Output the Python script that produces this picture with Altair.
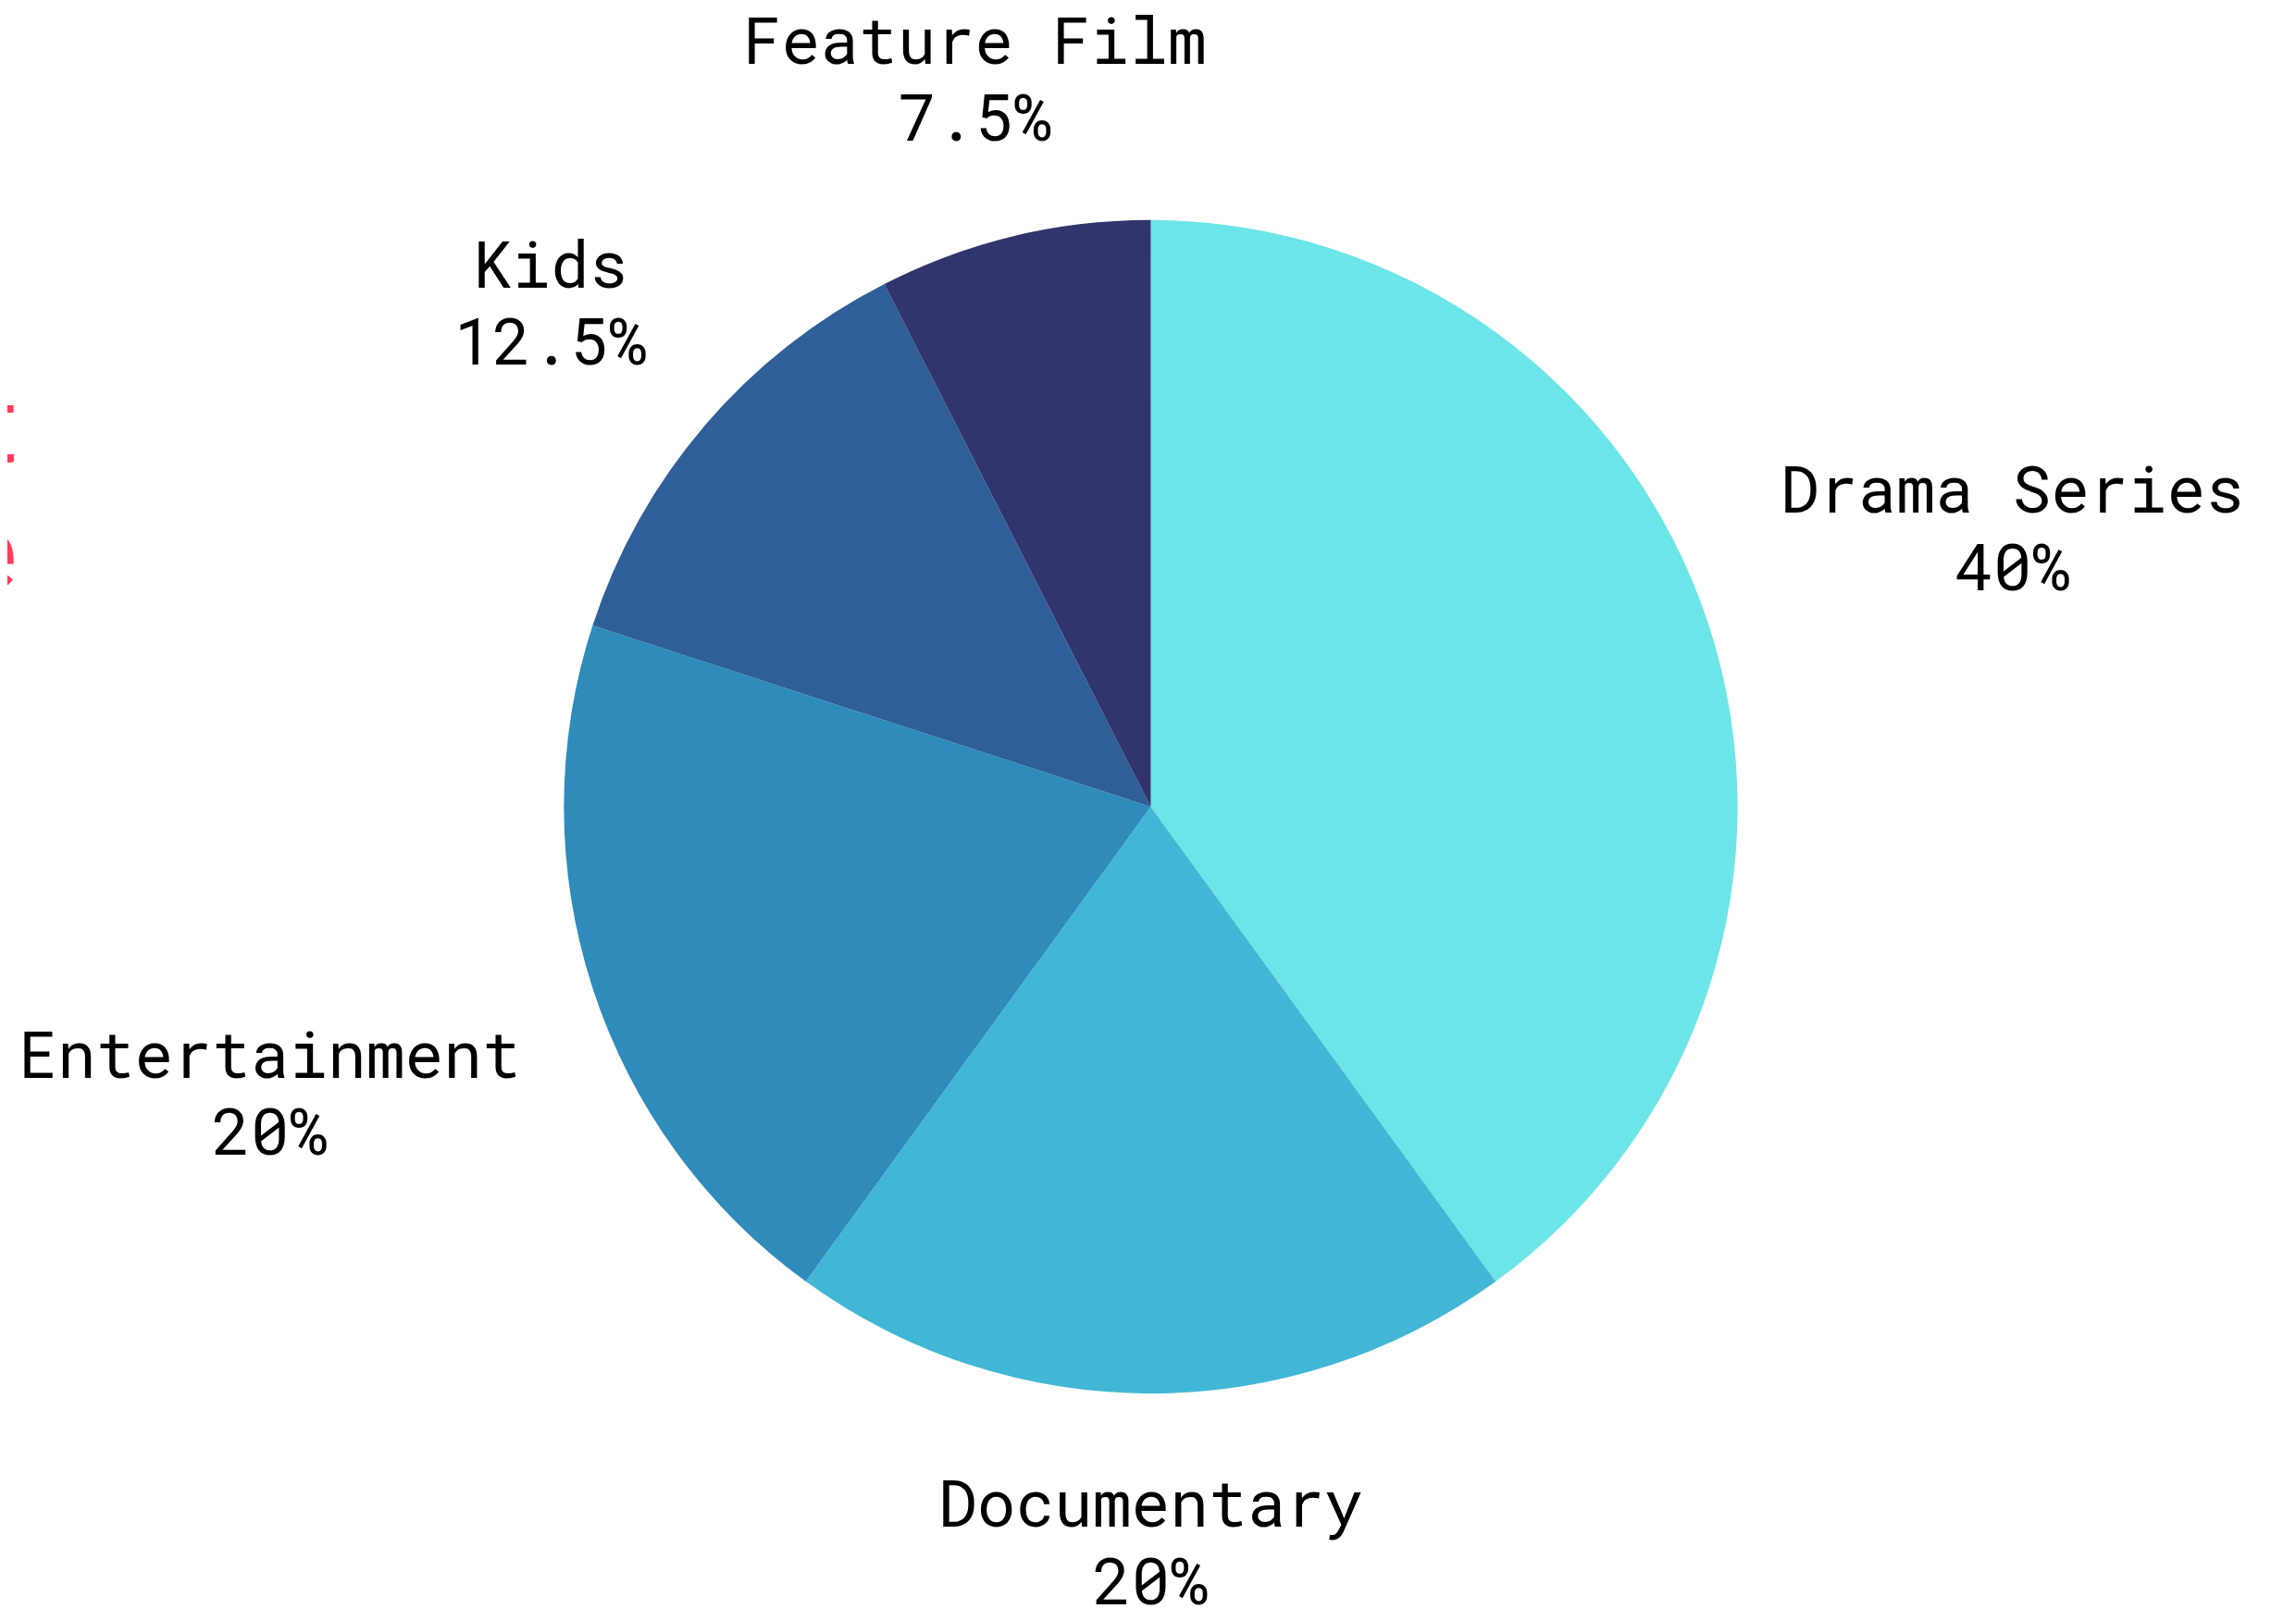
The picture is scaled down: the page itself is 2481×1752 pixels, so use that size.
import altair as alt
import pandas as pd

categories = ["Drama Series", "Documentary", "Entertainment", "Kids", "Feature Film"]
shares = [40, 20, 20, 12.5, 7.5]
colors = ["#6CE5E8", "#42B7D5", "#2E8BBA", "#2F5F98", "#31356D"]

# fragment of a red heading that sits almost entirely beyond the left edge
heading_lines = ["t", "e"]

df = pd.DataFrame({"category": categories, "share": shares, "order": list(range(len(categories)))})

base = alt.Chart(df).transform_window(
    cum="sum(share)", sort=[alt.SortField("order")]
).transform_calculate(
    mid="(datum.cum - datum.share / 2) / 100 * 2 * PI",
    pct="datum.share + '%'",
).transform_calculate(
    label="[datum.category, datum.pct]",
    maxlen="max(length(datum.category), length(datum.pct))",
)

theta = alt.Theta("share:Q", stack=True)
order = alt.Order("order:Q")

pie = base.mark_arc(radius=638).encode(
    theta=theta,
    order=order,
    color=alt.Color("category:N", scale=alt.Scale(domain=categories, range=colors), legend=None),
)

labels = base.mark_text(
    radius=720,
    font="Roboto Mono, DejaVu Sans Mono, monospace",
    fontSize=70,
    lineHeight=84,
    color="#000000",
    align="center",
    baseline="top",
    dx=alt.ExprRef(
        "sin(datum.mid) > 0.5 ? datum.maxlen * 21 : (sin(datum.mid) < -0.5 ? -datum.maxlen * 21 : sin(datum.mid) * 100)"
    ),
    dy=alt.ExprRef(
        "cos(datum.mid) > 0.2 ? (abs(sin(datum.mid)) < 0.5 ? -163 : -152) : "
        "(cos(datum.mid) < -0.2 ? (abs(sin(datum.mid)) < 0.5 ? 8 : 17) : -72)"
    ),
).encode(
    theta=theta,
    order=order,
    text="label:N",
)

heading = alt.Chart(pd.DataFrame({"t": [heading_lines]})).mark_text(
    font="Roboto, Noto Sans, sans-serif",
    fontSize=116,
    lineHeight=139,
    color="#FF3B5C",
    align="right",
    baseline="alphabetic",
).encode(
    x=alt.value(5),
    y=alt.value(489),
    text="t",
)

chart = alt.layer(pie, labels, heading).properties(
    width=2474,
    height=1728,
    padding={"left": 6, "top": 0, "right": 0, "bottom": 0},
    autosize=alt.AutoSizeParams(type="none"),
).configure_view(stroke=None)

chart.save("out.html", embed_options={"renderer": "svg", "actions": False})
